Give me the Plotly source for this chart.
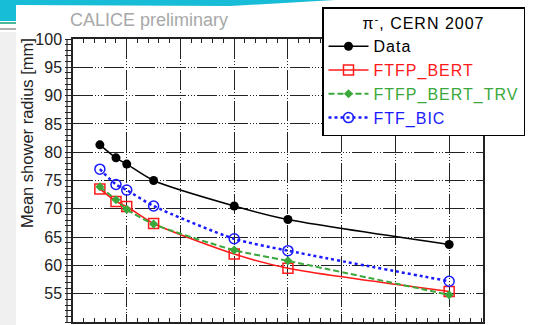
import plotly.graph_objects as go

# Beam energies [GeV] and mean shower radius [mm]
energy = [15, 18, 20, 25, 40, 50, 80]
data_radius = [81.3, 79.0, 77.9, 75.0, 70.5, 68.1, 63.7]
ftfp_bert = [73.5, 71.3, 70.4, 67.4, 62.0, 59.5, 55.4]
ftfp_bert_trv = [73.9, 71.6, 69.9, 67.3, 62.7, 60.8, 54.8]
ftf_bic = [77.0, 74.3, 73.3, 70.5, 64.7, 62.6, 57.2]

y_ticks = list(range(50, 101, 5))

W, H = 533, 325
L, R, T, B = 73, 50, 39, 3
PW, PH = W - L - R, H - T - B


def px(x):
    return (x - L) / PW


def py(y):
    return (H - B - y) / PH


FONT = "Liberation Sans, Arial, sans-serif"
GRID_DASH = "20px,2px,1px,2px,1px,2px,1px,2px"
SPACED = "letter-spacing:1px"


def label(text, color):
    return f'<span style="color:{color};{SPACED}">{text}</span>'


fig = go.Figure()

fig.add_trace(go.Scatter(
    x=energy, y=data_radius, name=label("Data", "black"), mode="lines+markers",
    line=dict(color="black", width=1.5, shape="spline", smoothing=0.7),
    marker=dict(symbol="circle", size=9, color="black"),
))
fig.add_trace(go.Scatter(
    x=energy, y=ftfp_bert, name=label("FTFP_BERT", "#ff1a1a"),
    mode="lines+markers",
    line=dict(color="#ff1a1a", width=1.6, shape="spline", smoothing=0.7),
    marker=dict(symbol="square-open", size=10, color="#ff1a1a", line=dict(width=1.5)),
))
fig.add_trace(go.Scatter(
    x=energy, y=ftfp_bert_trv, name=label("FTFP_BERT_TRV", "#3aa83a"),
    mode="lines+markers",
    line=dict(color="#3aa83a", width=2, dash="6px,3px", shape="spline", smoothing=0.7),
    marker=dict(symbol="diamond", size=7, color="#3aa83a"),
))
fig.add_trace(go.Scatter(
    x=energy, y=ftf_bic, name=label("FTF_BIC", "#1a1aff"),
    mode="lines+markers",
    line=dict(color="#1a1aff", width=2.5, dash="dot", shape="spline", smoothing=0.7),
    marker=dict(symbol="circle-open", size=10, color="#1a1aff", line=dict(width=1.5)),
))

shapes = [
    # light textured strip along the left edge of the slide
    dict(type="rect", xref="paper", yref="paper", layer="below",
         x0=px(0), x1=px(16), y0=py(325), y1=py(32),
         fillcolor="#f0f0f0", line=dict(width=0)),
    # teal banner across the top-left of the slide
    dict(type="path", xref="paper", yref="paper", layer="below",
         path=(f"M {px(0)},{py(0)} L {px(335)},{py(0)} L {px(230)},{py(6)} "
               f"L {px(16)},{py(5)} L {px(16)},{py(21)} L {px(0)},{py(21)} Z"),
         fillcolor="#17bdd6", line=dict(width=0)),
    dict(type="line", xref="paper", yref="paper", layer="below",
         x0=px(0), x1=px(16), y0=py(23), y1=py(23),
         line=dict(color="#4bb89a", width=2)),
    dict(type="line", xref="paper", yref="paper", layer="below",
         x0=px(0), x1=px(16), y0=py(29), y1=py(29),
         line=dict(color="#b0b0b0", width=2)),
    # outer edge of the tick ladder on the left axis
    dict(type="line", xref="paper", yref="paper",
         x0=px(67), x1=px(67), y0=0, y1=1,
         line=dict(color="#222", width=1.2)),
]

annotations = [
    dict(text="CALICE preliminary", xref="paper", yref="paper",
         x=px(68), y=py(20), xanchor="left", yanchor="middle", showarrow=False,
         font=dict(family=FONT, size=18, color="#a8a8a8")),
    dict(text="Mean shower radius [mm]", xref="paper", yref="paper",
         x=px(27), y=py(133), xanchor="center", yanchor="middle", showarrow=False,
         textangle=-90, font=dict(family=FONT, size=16.5, color="#222")),
]

fig.update_layout(
    width=W, height=H,
    margin=dict(l=L, r=R, t=T, b=B, autoexpand=False),
    paper_bgcolor="white", plot_bgcolor="white",
    font=dict(family=FONT, color="#222"),
    shapes=shapes, annotations=annotations,
    legend=dict(
        xref="paper", yref="paper",
        x=px(322), y=py(7), xanchor="left", yanchor="top",
        bgcolor="white", bordercolor="black", borderwidth=1.5,
        font=dict(family=FONT, size=16, color="black"),
        title=dict(text=f'<span style="{SPACED}">π<sup>-</sup>, CERN 2007</span>',
                   side="top center",
                   font=dict(family=FONT, size=16, color="black")),
        itemwidth=40, tracegroupgap=0,
    ),
    xaxis=dict(
        range=[10, 86.3], tick0=10, dtick=10,
        ticks="inside", ticklen=8, tickcolor="#222", tickwidth=1.2,
        mirror="allticks", showline=True, linecolor="#222", linewidth=1.5,
        showgrid=True, gridcolor="#222", gridwidth=1.3, griddash=GRID_DASH,
        zeroline=False,
        minor=dict(ticks="inside", dtick=2, ticklen=4, tickcolor="#222", showgrid=False),
        tickfont=dict(family=FONT, size=16, color="#222"),
    ),
    yaxis=dict(
        range=[50, 100], tickvals=y_ticks,
        ticks="outside", ticklen=6, tickcolor="#222", tickwidth=1.2,
        mirror=True, showline=True, linecolor="#222", linewidth=1.5,
        showgrid=True, gridcolor="#222", gridwidth=1.3, griddash=GRID_DASH,
        zeroline=False,
        minor=dict(ticks="outside", dtick=1, ticklen=6, tickcolor="#222", showgrid=False),
        tickfont=dict(family=FONT, size=16, color="#222"),
    ),
    yaxis2=dict(
        range=[50, 100], overlaying="y", side="right", tickvals=y_ticks,
        ticks="inside", ticklen=6, tickcolor="#222", tickwidth=1.2,
        showticklabels=False, showgrid=False, zeroline=False, showline=False,
        minor=dict(ticks="inside", dtick=1, ticklen=3, tickcolor="#222", showgrid=False),
    ),
)

fig.write_html("out.html")
